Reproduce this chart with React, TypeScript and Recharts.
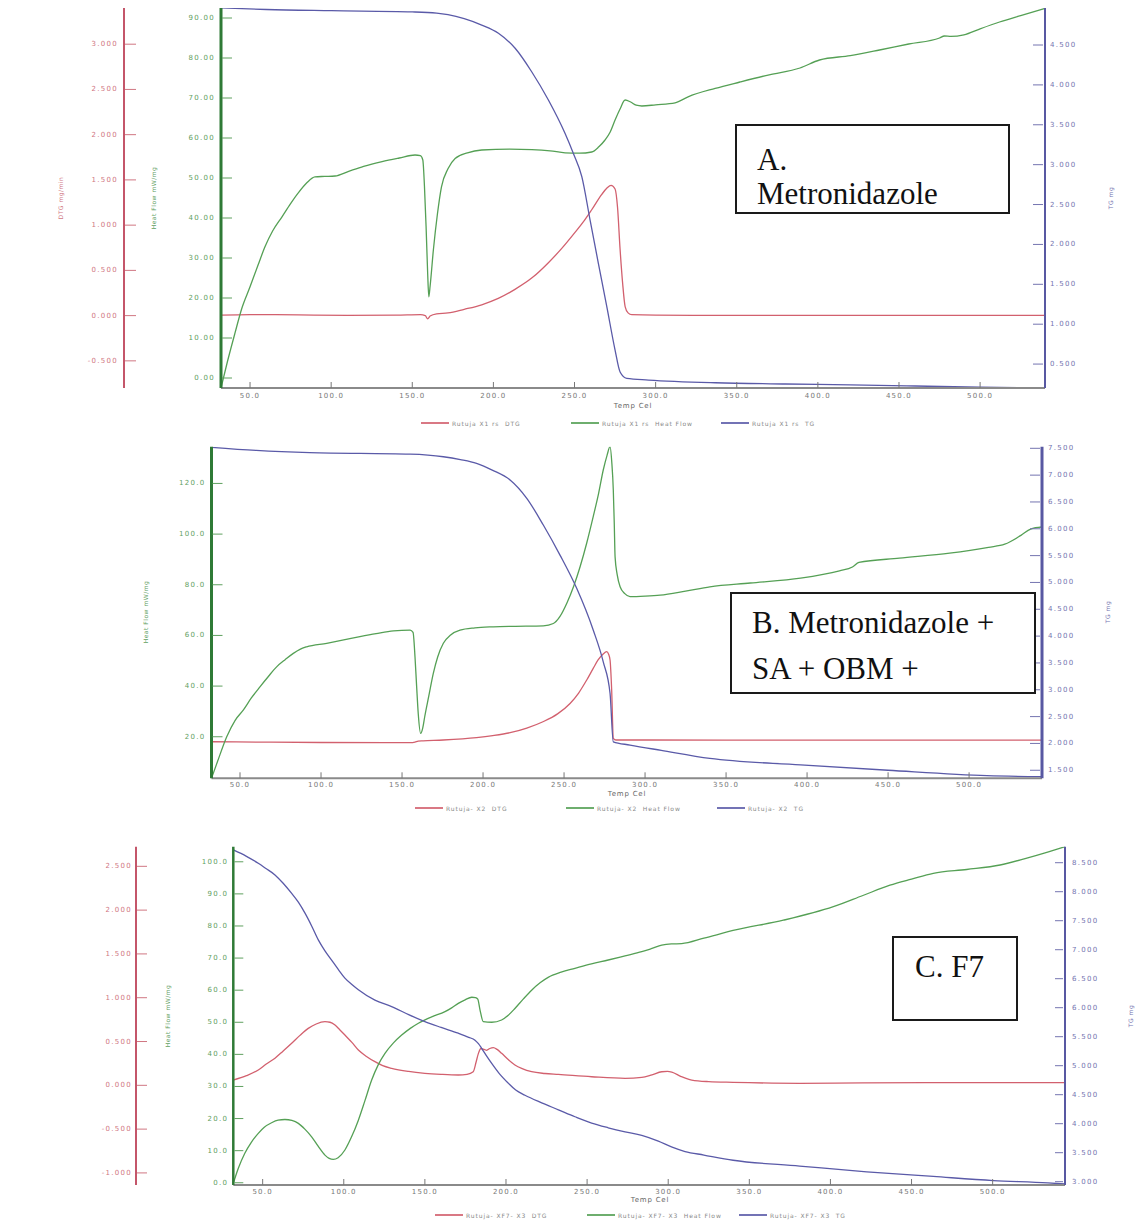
import React from 'react';
import { LineChart, Line, XAxis, YAxis, Legend } from 'recharts';

type Pt = [number, number];

// ---------------- Panel A : Metronidazole ----------------
const A_DTG: Pt[] = [
  [32.1, 0.005], [50, 0.012], [80, 0.008], [110, 0.003], [140, 0.005], [155, 0.01], [158, 0.0],
  [159.5, -0.035], [161, -0.005], [165, 0.02], [172, 0.03], [182, 0.07], [192.8, 0.12], [203, 0.19],
  [213.3, 0.29], [224, 0.42], [233.9, 0.585], [242, 0.74], [250.3, 0.92], [256, 1.05], [260.6, 1.17],
  [266.8, 1.34], [270, 1.41], [272.5, 1.44], [275, 1.4], [276.5, 1.2], [278.1, 0.73], [279.7, 0.35],
  [281.2, 0.1], [283, 0.03], [285.3, 0.01], [300, 0.005], [350, 0.003], [400, 0.002], [450, 0.002],
  [500, 0.002], [540, 0.003],
];
const A_HF: Pt[] = [
  [32.1, -2.5], [36, 4], [40.7, 11.2], [45, 17.5], [50, 22.8], [55, 28.3], [59.2, 32.8], [64, 36.8],
  [69.7, 40.3], [75, 43.6], [79.6, 46.2], [85, 48.8], [90, 50.3], [96, 50.4], [102.4, 50.5],
  [110.4, 51.6], [120, 52.9], [131.4, 54.1], [142, 55.0], [151.7, 55.75], [155, 55.6], [156.5, 54.5],
  [157.5, 48], [158.5, 38], [159.5, 26], [160.2, 20.3], [161, 23], [163, 32], [165.5, 41], [168, 47.8],
  [172, 52.3], [176.4, 54.9], [184, 56.3], [192.8, 57], [210, 57.2], [223.7, 57.1], [235, 56.8],
  [244.2, 56.3], [253, 56.2], [260.6, 56.5], [265, 57.8], [268.8, 59.5], [272, 61.5], [275, 64.5],
  [278, 67.2], [281.2, 69.5], [284.6, 69.0], [288, 68.2], [291.5, 68.0], [300, 68.3], [312, 68.8],
  [320, 70.3], [336.7, 72.4], [352, 74], [370, 75.8], [389, 77.5], [401, 79.5], [420, 80.6], [438, 82],
  [456, 83.5], [475, 85], [478, 85.5], [482, 85.4], [490, 85.8], [500, 87.3], [512, 89], [525, 90.6],
  [540, 92.4],
];
const A_TG: Pt[] = [
  [32.1, 4.965], [60, 4.945], [100, 4.93], [150, 4.915], [165, 4.9], [172, 4.88], [182, 4.83],
  [192.8, 4.75], [203.1, 4.647], [213.4, 4.459], [223.6, 4.165], [233.9, 3.81], [244.2, 3.39],
  [249.3, 3.14], [254.5, 2.85], [259.6, 2.306], [264.7, 1.763], [269.9, 1.22], [275, 0.676],
  [278.1, 0.4], [282.2, 0.32], [295.6, 0.3], [336.7, 0.266], [380, 0.25], [420, 0.24], [460, 0.225],
  [500, 0.21], [540, 0.2],
];

// ---------------- Panel B : Metronidazole + SA + OBM + ----------------
const B_DTG: Pt[] = [
  [32.4, -0.114], [60, -0.118], [100, -0.122], [140, -0.124], [155, -0.124], [158, -0.118],
  [160, -0.108], [163, -0.105], [175.5, -0.096], [196, -0.071], [206, -0.05], [216.7, -0.019],
  [227, 0.03], [237, 0.097], [246, 0.18], [253.7, 0.29], [259, 0.4], [264, 0.538], [268, 0.66],
  [271, 0.749], [274, 0.81], [276.3, 0.836], [277.5, 0.81], [278.4, 0.749], [279.4, 0.43],
  [280.4, -0.078], [282, -0.096], [300, -0.096], [400, -0.097], [500, -0.097], [545, -0.097],
];
const B_HF: Pt[] = [
  [32.4, 3.6], [36, 10], [41.8, 20], [47, 26.5], [52, 30.5], [57, 35.3], [62.3, 39.7], [67.5, 43.8],
  [72.6, 47.6], [78, 50.5], [82.9, 52.9], [87, 54.5], [91.1, 55.5], [103.5, 56.9], [114, 58.2],
  [124, 59.5], [134, 60.7], [144.7, 61.8], [155, 62.1], [156.8, 61.2], [158, 51.6], [159, 40],
  [160, 29.2], [161.5, 21.3], [162.8, 23.5], [164, 27.9], [166.5, 36], [169.3, 45], [172, 51.5],
  [175.5, 56.9], [180, 60.2], [185.8, 62.1], [195, 63.0], [206.4, 63.4], [220, 63.6], [237.2, 63.8],
  [243.4, 64.7], [247.5, 67.5], [251.7, 72.7], [256, 79.5], [259.9, 87.1], [264, 96.5], [268, 106.9],
  [271.3, 116], [274.2, 125.3], [276.5, 131], [278.4, 134.5], [279.5, 128], [280.4, 117.4], [281, 104],
  [281.5, 91], [282.8, 84], [284.6, 79.2], [287.5, 76.5], [290.7, 75.3], [300, 75.5], [309.3, 75.9],
  [325, 77.5], [340, 79.2], [365, 80.7], [396, 82.6], [420, 85.5], [428, 87], [432, 88.8], [457, 90.5],
  [488, 92.5], [512, 94.8], [522, 96], [532, 99.5], [538, 102], [545, 102.8],
];
const B_TG: Pt[] = [
  [32.4, 7.518], [60, 7.46], [93, 7.418], [155, 7.39], [175.5, 7.343], [186, 7.29], [196, 7.22],
  [206, 7.09], [216.7, 6.91], [227, 6.568], [237.2, 6.07], [247.5, 5.51], [257.8, 4.89], [268, 4.114],
  [274.2, 3.52], [278.4, 2.93], [280.4, 2.03], [290.7, 1.97], [310, 1.87], [340, 1.72], [396, 1.6],
  [450, 1.5], [511, 1.4], [545, 1.38],
];

// ---------------- Panel C : F7 ----------------
const C_DTG: Pt[] = [
  [31.9, 0.06], [40, 0.11], [47.3, 0.175], [52, 0.24], [57.6, 0.31], [62.5, 0.39], [67.9, 0.48],
  [73, 0.57], [78.1, 0.65], [83, 0.7], [88.4, 0.726], [91.5, 0.72], [94.6, 0.688], [97.5, 0.635],
  [100.7, 0.574], [105, 0.49], [109, 0.403], [114, 0.33], [119.2, 0.27], [124, 0.225], [129.5, 0.194],
  [140, 0.158], [150, 0.137], [160, 0.125], [170.6, 0.118], [176, 0.125], [179.8, 0.155],
  [181.5, 0.26], [183, 0.365], [184.6, 0.42], [186.5, 0.41], [188.1, 0.4], [190, 0.42], [192.2, 0.43],
  [194.5, 0.41], [197.3, 0.365], [201, 0.3], [205.5, 0.232], [210, 0.19], [215.8, 0.155], [224, 0.135],
  [232.3, 0.125], [252.8, 0.098], [273.4, 0.08], [283.7, 0.09], [290, 0.12], [296, 0.155],
  [299.5, 0.158], [302.2, 0.15], [308, 0.1], [314.5, 0.06], [325, 0.042], [340, 0.034], [381, 0.023],
  [420, 0.028], [460, 0.03], [500, 0.03], [544.6, 0.03],
];
const C_HF: Pt[] = [
  [31.9, -0.2], [35, 4.5], [39, 9.2], [43, 12.6], [47.3, 15.4], [51, 17.3], [55.5, 18.7], [59.5, 19.5],
  [63.7, 19.7], [68, 19.4], [72, 18.5], [76, 16.7], [80.2, 14.3], [84.3, 11.3], [88.4, 8.6], [91, 7.6],
  [93.5, 7.3], [96.5, 7.8], [100.7, 10.2], [104.8, 14.3], [109, 19.5], [113, 25.5], [117.2, 32],
  [121.3, 36.8], [125.4, 40.3], [130.5, 43.5], [135.7, 46], [141, 48.1], [146, 49.7], [154.2, 51.7],
  [162.4, 53.3], [166.5, 54.5], [170.6, 55.9], [174.8, 57.0], [178.9, 57.8], [181.2, 57.7],
  [182.6, 57.2], [184, 53.8], [186, 50.2], [191.2, 50], [197.3, 50.7], [201.4, 52.2], [205.5, 54.3],
  [210.6, 57.2], [215.8, 60], [221, 62.3], [226, 64], [234, 65.6], [242.5, 66.8], [252.7, 68.2],
  [263, 69.4], [273.4, 70.7], [283.7, 72], [290, 73], [296, 74], [302, 74.4], [308.3, 74.5],
  [322, 76.2], [340, 78.6], [371, 81.8], [401.8, 86], [420, 89.5], [436.7, 92.7], [450, 94.6],
  [463.4, 96.4], [484, 97.6], [504.6, 99], [520, 101], [534.4, 103.1], [544.6, 104.7],
];
const C_TG: Pt[] = [
  [31.9, 8.72], [40, 8.61], [47.3, 8.49], [52, 8.4], [57.6, 8.29], [62.5, 8.15], [67.9, 7.97],
  [72, 7.82], [76.1, 7.63], [80.2, 7.41], [84.3, 7.17], [88.4, 6.98], [92.5, 6.82], [96.6, 6.66],
  [100.7, 6.51], [105, 6.4], [109, 6.31], [119.2, 6.13], [129.5, 6.02], [140, 5.88], [150, 5.76],
  [160, 5.66], [170.6, 5.56], [177, 5.49], [180.9, 5.44], [183, 5.38], [185, 5.3], [188, 5.17],
  [191.2, 5.04], [196, 4.86], [201.4, 4.7], [206, 4.58], [211.7, 4.49], [222, 4.36], [232.3, 4.24],
  [242.5, 4.12], [252.8, 4.01], [263, 3.93], [273.4, 3.86], [283.7, 3.8], [293.9, 3.7], [302, 3.6],
  [310.4, 3.52], [322, 3.46], [340, 3.37], [381, 3.27], [422.4, 3.17], [463.4, 3.09], [500.4, 3.02],
  [534, 2.98], [544.6, 2.96],
];

// ---------------- Tick labels ----------------
const TEMP_TICKS = [50, 100, 150, 200, 250, 300, 350, 400, 450, 500];
const A_HF_TICKS = [0, 10, 20, 30, 40, 50, 60, 70, 80, 90];
const A_DTG_TICKS = [-0.5, 0, 0.5, 1, 1.5, 2, 2.5, 3];
const A_TG_TICKS = [0.5, 1, 1.5, 2, 2.5, 3, 3.5, 4, 4.5];
const B_HF_TICKS = [20, 40, 60, 80, 100, 120];
const B_TG_TICKS = [1.5, 2, 2.5, 3, 3.5, 4, 4.5, 5, 5.5, 6, 6.5, 7, 7.5];
const C_HF_TICKS = [0, 10, 20, 30, 40, 50, 60, 70, 80, 90, 100];
const C_DTG_TICKS = [-1, -0.5, 0, 0.5, 1, 1.5, 2, 2.5];
const C_TG_TICKS = [3, 3.5, 4, 4.5, 5, 5.5, 6, 6.5, 7, 7.5, 8, 8.5];

const A_NAMES = ['Rutuja X1 rs  DTG', 'Rutuja X1 rs  Heat Flow', 'Rutuja X1 rs  TG'];
const B_NAMES = ['Rutuja- X2  DTG', 'Rutuja- X2  Heat Flow', 'Rutuja- X2  TG'];
const C_NAMES = ['Rutuja- XF7- X3  DTG', 'Rutuja- XF7- X3  Heat Flow', 'Rutuja- XF7- X3  TG'];

// ---------------- Styles ----------------
const RED = '#d2606e';
const GREEN = '#55a055';
const BLUE = '#5a5aa8';
const RED_AX = '#c4566a';
const GREEN_AX = '#2f7a36';
const BLUE_AX = '#5858a2';
const RED_TXT = '#d07682';
const GREEN_TXT = '#5fa05f';
const BLUE_TXT = '#7474b0';
const GRAY_TXT = '#777';
const TICK_FONT = 'DejaVu Sans, Arial, sans-serif';
const SERIF = '"Liberation Serif", "Times New Roman", serif';

// axis ids: the heat-flow axis must sit next to the plot, so it sorts first and is declared last
const ID_HF = 'a_hf';
const ID_DTG = 'b_dtg';
const ID_TG = 'c_tg';

const f1 = (v: number) => v.toFixed(1);
const f2 = (v: number) => v.toFixed(2);
const f3 = (v: number) => v.toFixed(3);
const rows = (pts: Pt[]) => pts.map(([T, v]) => ({ T, v }));

const leftTick = (color: string, fmt: (v: number) => string, len: number, gap: number) => (p: any) => (
  <g>
    <line x1={p.x + 1} x2={p.x + 1 + len} y1={p.y} y2={p.y} stroke={color} strokeWidth={1} />
    <text x={p.x - gap} y={p.y} textAnchor="end" dominantBaseline="central" fontSize={7}
      fill={color} letterSpacing={1.3} fontFamily={TICK_FONT}>{fmt(p.payload.value)}</text>
  </g>
);
const rightTick = (color: string, fmt: (v: number) => string, len: number, gap: number) => (p: any) => (
  <g>
    <line x1={p.x - 2 - len} x2={p.x - 2} y1={p.y} y2={p.y} stroke={color} strokeWidth={1} />
    <text x={p.x + gap} y={p.y} textAnchor="start" dominantBaseline="central" fontSize={7}
      fill={color} letterSpacing={1.3} fontFamily={TICK_FONT}>{fmt(p.payload.value)}</text>
  </g>
);
const bottomTick = (gap: number) => (p: any) => (
  <g>
    <line x1={p.x} x2={p.x} y1={p.y} y2={p.y - 6} stroke="#777" strokeWidth={1} />
    <text x={p.x} y={p.y + gap} textAnchor="middle" dominantBaseline="central" fontSize={7}
      fill={GRAY_TXT} letterSpacing={1.2} fontFamily={TICK_FONT}>{f1(p.payload.value)}</text>
  </g>
);

// stable tick renderers
const A_HF_TICK = leftTick(GREEN_TXT, f2, 10, 6);
const A_DTG_TICK = leftTick(RED_TXT, f3, 11, 6);
const A_TG_TICK = rightTick(BLUE_TXT, f3, 10, 5);
const A_X_TICK = bottomTick(8);
const B_HF_TICK = leftTick(GREEN_TXT, f1, 10, 6);
const B_TG_TICK = rightTick(BLUE_TXT, f3, 10, 6);
const B_X_TICK = bottomTick(7);
const C_HF_TICK = leftTick(GREEN_TXT, f1, 9, 5);
const C_DTG_TICK = leftTick(RED_TXT, f3, 10, 4);
const C_TG_TICK = rightTick(BLUE_TXT, f3, 8, 7);
const C_X_TICK = bottomTick(7);

const legendContent = (names: string[], x0: number, step: number) => (props: any) => {
  const payload = props && props.payload && props.payload.length ? props.payload : null;
  const colors = [RED, GREEN, BLUE];
  return (
    <div style={{ position: 'relative', width: 1141, height: 12 }}>
      {names.map((n, i) => {
        const item = payload ? payload.find((p: any) => p.value === n) : null;
        return (
          <div key={n} style={{ position: 'absolute', left: x0 + i * step, top: 0, height: 12, display: 'flex', alignItems: 'center' }}>
            <div style={{ width: 28, height: 0, borderTop: `2px solid ${(item && item.color) || colors[i]}`, opacity: 0.85 }} />
            <span style={{ fontSize: 6, color: '#888', marginLeft: 3, letterSpacing: 0.9, whiteSpace: 'pre', fontFamily: TICK_FONT }}>
              {n}
            </span>
          </div>
        );
      })}
    </div>
  );
};
const A_LEGEND = legendContent(A_NAMES, 421, 150);
const B_LEGEND = legendContent(B_NAMES, 415, 151);
const C_LEGEND = legendContent(C_NAMES, 435, 152);

const Title = ({ x, y, text, color, angle }: { x: number; y: number; text: string; color: string; angle: number }) => (
  <div style={{
    position: 'absolute', left: x, top: y, transform: `translate(-50%, -50%) rotate(${angle}deg)`,
    fontSize: 6, color, whiteSpace: 'nowrap', fontFamily: TICK_FONT, letterSpacing: 0.5,
  }}>{text}</div>
);

const Box = ({ left, top, width, height, lines }: { left: number; top: number; width: number; height: number; lines: { text: string; x: number; base: number }[] }) => (
  <>
    <div style={{ position: 'absolute', left, top, width, height, border: '2px solid #1a1a1a', boxSizing: 'border-box', background: '#fff' }} />
    {lines.map((l) => (
      <div key={l.text} style={{
        position: 'absolute', left: l.x, top: l.base - 26, fontFamily: SERIF, fontSize: 31,
        lineHeight: '31px', color: '#111', whiteSpace: 'nowrap',
      }}>{l.text}</div>
    ))}
  </>
);

const lineProps = { dot: false, activeDot: false, isAnimationActive: false, strokeWidth: 1.3, type: 'monotone' as const, dataKey: 'v' };
const yCommon = { type: 'number' as const, allowDataOverflow: true, interval: 0 as const, tickSize: 0, tickMargin: 0, tickLine: false };

function PanelA() {
  return (
    <div style={{ position: 'absolute', left: 0, top: 0 }}>
      <LineChart width={1141} height={432} margin={{ top: 8, right: 6, bottom: 14, left: 24 }}>
        <XAxis dataKey="T" type="number" domain={[32.1, 540]} allowDataOverflow ticks={TEMP_TICKS} interval={0}
          height={30} tickSize={0} tickMargin={0} tickLine={false} axisLine={{ stroke: '#8a8a8a', strokeWidth: 2 }} tick={A_X_TICK} />
        <XAxis xAxisId="top" orientation="top" type="number" domain={[32.1, 540]} height={0} tick={false} tickLine={false}
          axisLine={{ stroke: '#a0a0a0', strokeWidth: 2 }} />
        <YAxis yAxisId={ID_DTG} orientation="left" width={100} domain={[-0.8, 3.4]} ticks={A_DTG_TICKS} {...yCommon}
          axisLine={{ stroke: RED_AX, strokeWidth: 2 }} tick={A_DTG_TICK} />
        <YAxis yAxisId={ID_HF} orientation="left" width={97} domain={[-2.5, 92.5]} ticks={A_HF_TICKS} {...yCommon}
          axisLine={{ stroke: GREEN_AX, strokeWidth: 3 }} tick={A_HF_TICK} />
        <YAxis yAxisId={ID_TG} orientation="right" width={90} domain={[0.2, 4.964]} ticks={A_TG_TICKS} {...yCommon}
          axisLine={{ stroke: BLUE_AX, strokeWidth: 2 }} tick={A_TG_TICK} />
        <Line {...lineProps} yAxisId={ID_DTG} data={rows(A_DTG)} stroke={RED} name={A_NAMES[0]} />
        <Line {...lineProps} yAxisId={ID_HF} data={rows(A_HF)} stroke={GREEN} name={A_NAMES[1]} />
        <Line {...lineProps} yAxisId={ID_TG} data={rows(A_TG)} stroke={BLUE} name={A_NAMES[2]} />
        <Legend layout="horizontal" verticalAlign="middle" align="center" wrapperStyle={{ top: 417, left: 0, width: 1141 }}
          content={A_LEGEND} />
      </LineChart>
    </div>
  );
}

function PanelB() {
  return (
    <div style={{ position: 'absolute', left: 0, top: 445 }}>
      <LineChart width={1141} height={375} margin={{ top: 1.7, right: 9, bottom: 11.7, left: 111.5 }}>
        <XAxis dataKey="T" type="number" domain={[32.4, 545]} allowDataOverflow ticks={TEMP_TICKS} interval={0}
          height={30} tickSize={0} tickMargin={0} tickLine={false} axisLine={{ stroke: '#8a8a8a', strokeWidth: 2 }} tick={B_X_TICK} />
        <YAxis yAxisId={ID_DTG} hide width={0} type="number" domain={[-0.5, 3.0]} allowDataOverflow />
        <YAxis yAxisId={ID_HF} orientation="left" width={100} domain={[3.6, 134.5]} ticks={B_HF_TICKS} {...yCommon}
          axisLine={{ stroke: GREEN_AX, strokeWidth: 3 }} tick={B_HF_TICK} />
        <YAxis yAxisId={ID_TG} orientation="right" width={90} domain={[1.35, 7.53]} ticks={B_TG_TICKS} {...yCommon}
          axisLine={{ stroke: BLUE_AX, strokeWidth: 3 }} tick={B_TG_TICK} />
        <Line {...lineProps} yAxisId={ID_DTG} data={rows(B_DTG)} stroke={RED} name={B_NAMES[0]} />
        <Line {...lineProps} yAxisId={ID_HF} data={rows(B_HF)} stroke={GREEN} name={B_NAMES[1]} />
        <Line {...lineProps} yAxisId={ID_TG} data={rows(B_TG)} stroke={BLUE} name={B_NAMES[2]} />
        <Legend layout="horizontal" verticalAlign="middle" align="center" wrapperStyle={{ top: 357, left: 0, width: 1141 }}
          content={B_LEGEND} />
      </LineChart>
    </div>
  );
}

function PanelC() {
  return (
    <div style={{ position: 'absolute', left: 0, top: 835 }}>
      <LineChart width={1141} height={388} margin={{ top: 11.7, right: 6, bottom: 10, left: 36 }}>
        <XAxis dataKey="T" type="number" domain={[31.9, 544.6]} allowDataOverflow ticks={TEMP_TICKS} interval={0}
          height={28} tickSize={0} tickMargin={0} tickLine={false} axisLine={{ stroke: '#8a8a8a', strokeWidth: 2 }} tick={C_X_TICK} />
        <XAxis xAxisId="top" orientation="top" type="number" domain={[31.9, 544.6]} height={0} tick={false} tickLine={false}
          axisLine={{ stroke: '#b0b0b0', strokeWidth: 1.5 }} />
        <YAxis yAxisId={ID_DTG} orientation="left" width={100} domain={[-1.138, 2.724]} ticks={C_DTG_TICKS} {...yCommon}
          axisLine={{ stroke: RED_AX, strokeWidth: 2 }} tick={C_DTG_TICK} />
        <YAxis yAxisId={ID_HF} orientation="left" width={97.3} domain={[-0.7, 104.7]} ticks={C_HF_TICKS} {...yCommon}
          axisLine={{ stroke: GREEN_AX, strokeWidth: 2.5 }} tick={C_HF_TICK} />
        <YAxis yAxisId={ID_TG} orientation="right" width={70} domain={[2.943, 8.776]} ticks={C_TG_TICKS} {...yCommon}
          axisLine={{ stroke: BLUE_AX, strokeWidth: 2 }} tick={C_TG_TICK} />
        <Line {...lineProps} yAxisId={ID_DTG} data={rows(C_DTG)} stroke={RED} name={C_NAMES[0]} />
        <Line {...lineProps} yAxisId={ID_HF} data={rows(C_HF)} stroke={GREEN} name={C_NAMES[1]} />
        <Line {...lineProps} yAxisId={ID_TG} data={rows(C_TG)} stroke={BLUE} name={C_NAMES[2]} />
        <Legend layout="horizontal" verticalAlign="middle" align="center" wrapperStyle={{ top: 374, left: 0, width: 1141 }}
          content={C_LEGEND} />
      </LineChart>
    </div>
  );
}

export default function App() {
  return (
    <div style={{ position: 'absolute', left: 0, top: 0, width: 1141, height: 1223, background: '#fff', overflow: 'hidden' }}>
      <PanelA />
      <PanelB />
      <PanelC />

      {/* axis titles */}
      <Title x={60} y={198} text="DTG mg/min" color={RED_TXT} angle={-90} />
      <Title x={153} y={198} text="Heat Flow mW/mg" color={GREEN_TXT} angle={-90} />
      <Title x={1110} y={198} text="TG mg" color={BLUE_TXT} angle={-90} />
      <Title x={145} y={612} text="Heat Flow mW/mg" color={GREEN_TXT} angle={-90} />
      <Title x={1107} y={612} text="TG mg" color={BLUE_TXT} angle={-90} />
      <Title x={167} y={1016} text="Heat Flow mW/mg" color={GREEN_TXT} angle={-90} />
      <Title x={1130} y={1016} text="TG mg" color={BLUE_TXT} angle={-90} />

      {/* x axis titles */}
      <div style={{ position: 'absolute', left: 633, top: 406, transform: 'translate(-50%,-50%)', fontSize: 7, color: '#666', fontFamily: TICK_FONT, letterSpacing: 0.8 }}>Temp Cel</div>
      <div style={{ position: 'absolute', left: 627, top: 794, transform: 'translate(-50%,-50%)', fontSize: 7, color: '#666', fontFamily: TICK_FONT, letterSpacing: 0.8 }}>Temp Cel</div>
      <div style={{ position: 'absolute', left: 650, top: 1200, transform: 'translate(-50%,-50%)', fontSize: 7, color: '#666', fontFamily: TICK_FONT, letterSpacing: 0.8 }}>Temp Cel</div>

      {/* annotation boxes */}
      <Box left={735} top={124} width={275} height={90} lines={[
        { text: 'A.', x: 757, base: 170 },
        { text: 'Metronidazole', x: 757, base: 204 },
      ]} />
      <Box left={730} top={592} width={306} height={102} lines={[
        { text: 'B. Metronidazole +', x: 752, base: 633 },
        { text: 'SA + OBM +', x: 752, base: 679 },
      ]} />
      <Box left={892} top={936} width={126} height={85} lines={[
        { text: 'C. F7', x: 915, base: 977 },
      ]} />
    </div>
  );
}
